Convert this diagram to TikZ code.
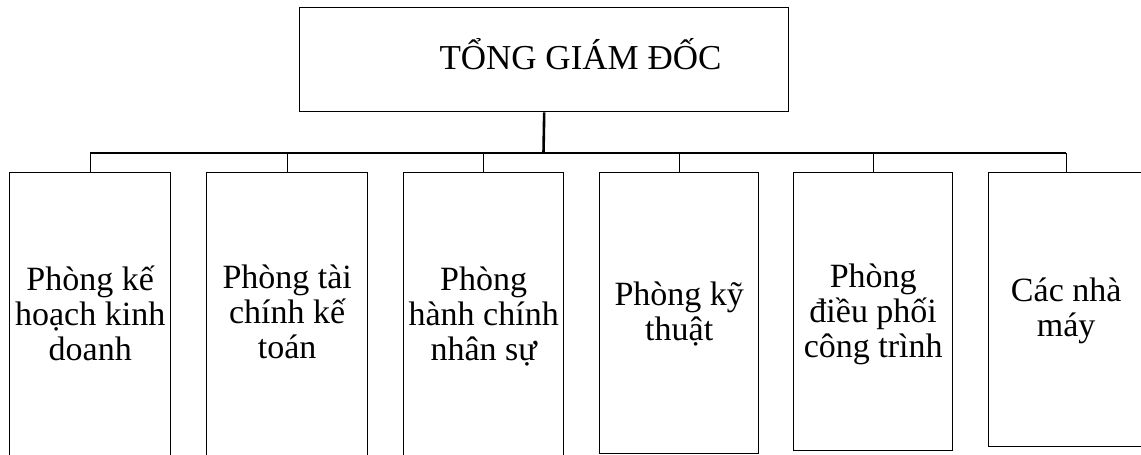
\documentclass[tikz,border=0pt]{standalone}
\usepackage{fontspec}
\setmainfont{Liberation Serif}
\begin{document}
\begin{tikzpicture}[x=1pt,y=-1pt,
  box/.style={draw, line width=1.4pt, rectangle, inner sep=0pt, anchor=north west},
  lbl/.style={align=center, anchor=base, inner sep=0pt, font=\fontsize{34}{35}\selectfont},
  link/.style={line width=1.4pt},
  stem/.style={line width=2.6pt}]
\useasboundingbox (0,0) rectangle (1141,455);
% top box
\node[box, minimum width=489pt, minimum height=104pt] (top) at (299,7) {};
\node[anchor=base, inner sep=0pt, font=\fontsize{35}{36}\selectfont] (toptxt) at (580.5,69) {TỔNG GIÁM ĐỐC};
% department boxes
\node[box, minimum width=161pt, minimum height=288pt] (b1) at (9,172) {};
\node[box, minimum width=161pt, minimum height=288pt] (b2) at (206,172) {};
\node[box, minimum width=160pt, minimum height=288pt] (b3) at (403,172) {};
\node[box, minimum width=159pt, minimum height=281pt] (b4) at (599,172) {};
\node[box, minimum width=159pt, minimum height=278pt] (b5) at (793,172) {};
\node[box, minimum width=155pt, minimum height=274pt] (b6) at (988,172) {};
% labels (anchor = baseline of last line)
\node[lbl] (t1) at (b1.north |- 0,360) {Phòng kế\\hoạch kinh\\doanh};
\node[lbl] (t2) at (b2.north |- 0,358) {Phòng tài\\chính kế\\toán};
\node[lbl] (t3) at (b3.north |- 0,360) {Phòng\\hành chính\\nhân sự};
\node[lbl] (t4) at (b4.north |- 0,340) {Phòng kỹ\\thuật};
\node[lbl] (t5) at (b5.north |- 0,357) {Phòng\\điều phối\\công trình};
\node[lbl] (t6) at (b6.north |- 0,336) {Các nhà\\máy};
% connectors
\coordinate (bus) at (543.5,153);
\draw[stem] (top.south) -- (bus);
\draw[link] (b1.north |- bus) -- (b6.north |- bus);
\foreach \b in {b1,b2,b3,b4,b5,b6}{
  \draw[link] (\b.north) -- (\b.north |- bus);
}
\end{tikzpicture}
\end{document}
